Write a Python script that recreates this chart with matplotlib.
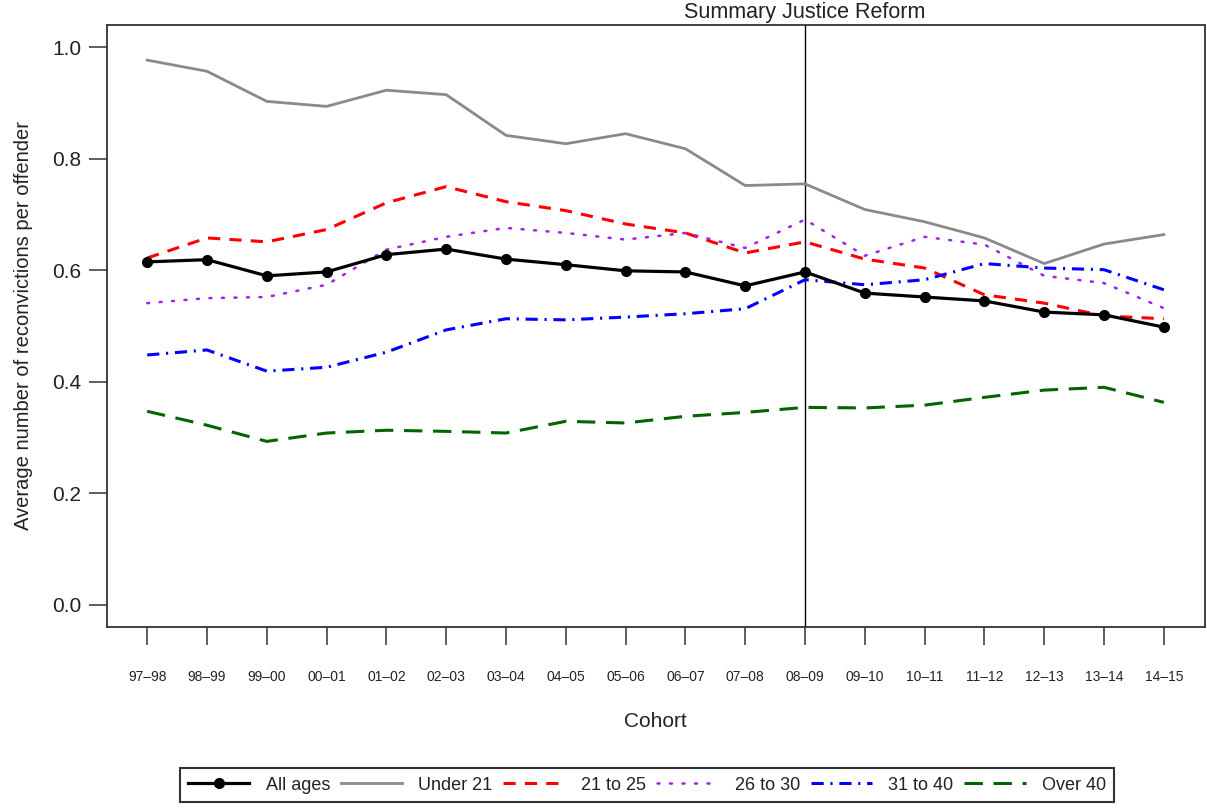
import matplotlib
matplotlib.use("Agg")
import matplotlib.pyplot as plt

cohorts = ["97–98", "98–99", "99–00", "00–01", "01–02", "02–03", "03–04", "04–05",
           "05–06", "06–07", "07–08", "08–09", "09–10", "10–11", "11–12", "12–13",
           "13–14", "14–15"]

all_ages = [0.615, 0.619, 0.590, 0.597, 0.628, 0.638, 0.620, 0.610, 0.599, 0.597,
            0.572, 0.597, 0.559, 0.552, 0.545, 0.525, 0.520, 0.498]
under_21 = [0.977, 0.957, 0.903, 0.894, 0.923, 0.915, 0.842, 0.827, 0.845, 0.818,
            0.752, 0.755, 0.709, 0.687, 0.658, 0.612, 0.647, 0.664]
age_21_25 = [0.622, 0.658, 0.651, 0.673, 0.721, 0.750, 0.723, 0.707, 0.683, 0.667,
             0.631, 0.651, 0.620, 0.604, 0.556, 0.541, 0.518, 0.513]
age_26_30 = [0.541, 0.550, 0.552, 0.574, 0.637, 0.660, 0.676, 0.667, 0.655, 0.667,
             0.640, 0.691, 0.626, 0.660, 0.646, 0.590, 0.577, 0.532]
age_31_40 = [0.448, 0.457, 0.419, 0.426, 0.453, 0.493, 0.513, 0.511, 0.516, 0.522,
             0.531, 0.583, 0.574, 0.583, 0.612, 0.604, 0.601, 0.565]
over_40 = [0.347, 0.322, 0.293, 0.308, 0.313, 0.311, 0.308, 0.329, 0.326, 0.338,
           0.345, 0.354, 0.353, 0.358, 0.372, 0.385, 0.390, 0.363]

reform_cohort = "08–09"
y_ticks = [0.0, 0.2, 0.4, 0.6, 0.8, 1.0]

plt.rcParams['font.family'] = ['Liberation Sans', 'DejaVu Sans']

fig = plt.figure(figsize=(12.07, 8.09), dpi=100)
ax = fig.add_axes([106.5/1207, 1 - 627/809, (1204.5-106.5)/1207, (627-25)/809])

x = list(range(len(cohorts)))
lw = 2.2
h_all, = ax.plot(x, all_ages, color='black', lw=2.3, marker='o', markersize=7, label='All ages', zorder=6)
h_u21, = ax.plot(x, under_21, color='#8a8a8a', lw=2.0, label='Under 21')
h_2125, = ax.plot(x, age_21_25, color='#ff0000', lw=lw, dashes=(4, 3), label='21 to 25')
h_2630, = ax.plot(x, age_26_30, color='#a020f0', lw=1.8, dashes=(0.8, 4.2), dash_capstyle='round', label='26 to 30')
h_3140, = ax.plot(x, age_31_40, color='#0000ff', lw=lw, dashes=(4, 2.2, 0.7, 2.2), label='31 to 40')
h_o40, = ax.plot(x, over_40, color='#006400', lw=lw, dashes=(6, 3.5), label='Over 40')

ri = cohorts.index(reform_cohort)
ax.axvline(ri, color='black', lw=1.0, zorder=1)
ax.text(ri, 1.004, "Summary Justice Reform", transform=ax.get_xaxis_transform(),
        ha='center', va='bottom', fontsize=15.5, color='#222222')

n = len(cohorts)
ax.set_xlim(-0.04 * (n - 1), (n - 1) * 1.04)
ax.set_ylim(-0.04, 1.04)
ax.set_xticks(x)
ax.set_xticklabels(cohorts, fontsize=10, color='#222222')
ax.set_yticks(y_ticks)
ax.set_yticklabels([f"{v:.1f}" for v in y_ticks], fontsize=15, color='#222222')
ax.tick_params(axis='x', length=13, width=1.1, color='#333333', pad=18)
ax.tick_params(axis='y', length=13, width=1.1, color='#333333', pad=5)
for s in ax.spines.values():
    s.set_linewidth(1.3)
    s.set_color('#333333')

ax.set_xlabel("Cohort", fontsize=15, color='#222222', labelpad=20)
ax.set_ylabel("Average number of reconvictions per offender", fontsize=14.5, color='#222222', labelpad=14)

leg = fig.legend(handles=[h_all, h_u21, h_2125, h_2630, h_3140, h_o40],
                 loc='center', bbox_to_anchor=(647/1207, 1 - 785/809), ncol=6,
                 fontsize=13, frameon=True, fancybox=False, edgecolor='black',
                 handlelength=3.4, handletextpad=0.9, columnspacing=0.6,
                 borderpad=0.45, borderaxespad=0)
leg.get_frame().set_linewidth(1.5)
for t in leg.get_texts():
    t.set_color('#222222')

fig.savefig("out.png", dpi=100)
